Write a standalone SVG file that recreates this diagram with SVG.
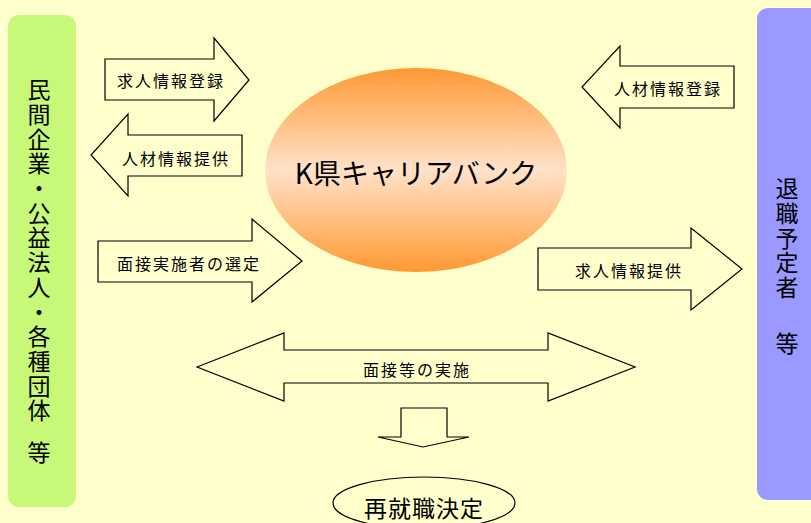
<svg xmlns="http://www.w3.org/2000/svg" width="811" height="523" viewBox="0 0 811 523">
  <style>
    .arrow { fill: #FFFFCC; stroke: #000; stroke-width: 1.2; stroke-linejoin: miter; }
    .lbl { font-family: "Noto Sans CJK JP", "Noto Sans", sans-serif; font-size: 16px; letter-spacing: 2px; fill: #000; text-anchor: middle; dominant-baseline: central; }
    .vt { font-family: "Noto Sans CJK JP", "Noto Sans", sans-serif; font-size: 23px; fill: #000; writing-mode: vertical-rl; text-orientation: upright; letter-spacing: 1.7px; }
    .big { font-family: "Noto Sans CJK JP", "Noto Sans", sans-serif; font-size: 28px; fill: #000; text-anchor: middle; dominant-baseline: central; }
    .mid { font-family: "Noto Sans CJK JP", "Noto Sans", sans-serif; font-size: 23px; letter-spacing: 1px; fill: #000; text-anchor: middle; dominant-baseline: central; }
  </style>
  <defs>
    <linearGradient id="orange" x1="0" y1="0" x2="0" y2="1">
      <stop offset="0" stop-color="#FF9933"/>
      <stop offset="0.5" stop-color="#FFE2CA"/>
      <stop offset="1" stop-color="#FF9933"/>
    </linearGradient>
  </defs>
  <rect width="811" height="523" fill="#FFFFCC"/>

  <g id="left-party">
    <rect x="8" y="15" width="68" height="492" rx="11" fill="#C8F878"/>
    <text class="vt" x="39" y="78">民間企業・公益法人・各種団体</text>
    <text class="vt" x="39" y="441">等</text>
  </g>

  <g id="right-party">
    <rect x="757" y="8" width="70" height="492" rx="11" fill="#9999FF"/>
    <text class="vt" x="787" y="177">退職予定者</text>
    <text class="vt" x="787" y="332">等</text>
  </g>

  <g id="career-bank">
    <ellipse cx="416" cy="170" rx="151" ry="102" fill="url(#orange)"/>
    <text class="big" x="416" y="172">K県キャリアバンク</text>
  </g>

  <g id="reemployment">
    <ellipse cx="424" cy="503" rx="91" ry="26" fill="#FFFFCC" stroke="#000" stroke-width="1.2"/>
    <text class="mid" x="424" y="507">再就職決定</text>
  </g>

  <g id="connectors">
    <g id="c1">
      <polygon class="arrow" points="105,59 214,59 214,38 249,80 214,121 214,100 105,100"/>
      <text class="lbl" x="171" y="80">求人情報登録</text>
    </g>
    <g id="c2">
      <polygon class="arrow" points="242,135 128,135 128,114 91,155 128,196 128,176 242,176"/>
      <text class="lbl" x="176" y="158">人材情報提供</text>
    </g>
    <g id="c3">
      <polygon class="arrow" points="98,241 252,241 252,219 302,261 252,302 252,282 98,282"/>
      <text class="lbl" x="189" y="263">面接実施者の選定</text>
    </g>
    <g id="c4">
      <polygon class="arrow" points="734,66 620,66 620,46 582,87 620,128 620,108 734,108"/>
      <text class="lbl" x="668" y="88">人材情報登録</text>
    </g>
    <g id="c5">
      <polygon class="arrow" points="538,248 691,248 691,228 742,269 691,310 691,290 538,290"/>
      <text class="lbl" x="629" y="270">求人情報提供</text>
    </g>
    <g id="c6">
      <polygon class="arrow" points="197,367 284,333 284,350 548,350 548,333 635,367 548,401 548,383 284,383 284,401"/>
      <text class="lbl" x="417" y="369">面接等の実施</text>
    </g>
    <g id="c7">
      <polygon class="arrow" points="401,408 447,408 447,437 469,437 423,447 378,437 401,437"/>
    </g>
  </g>
</svg>
